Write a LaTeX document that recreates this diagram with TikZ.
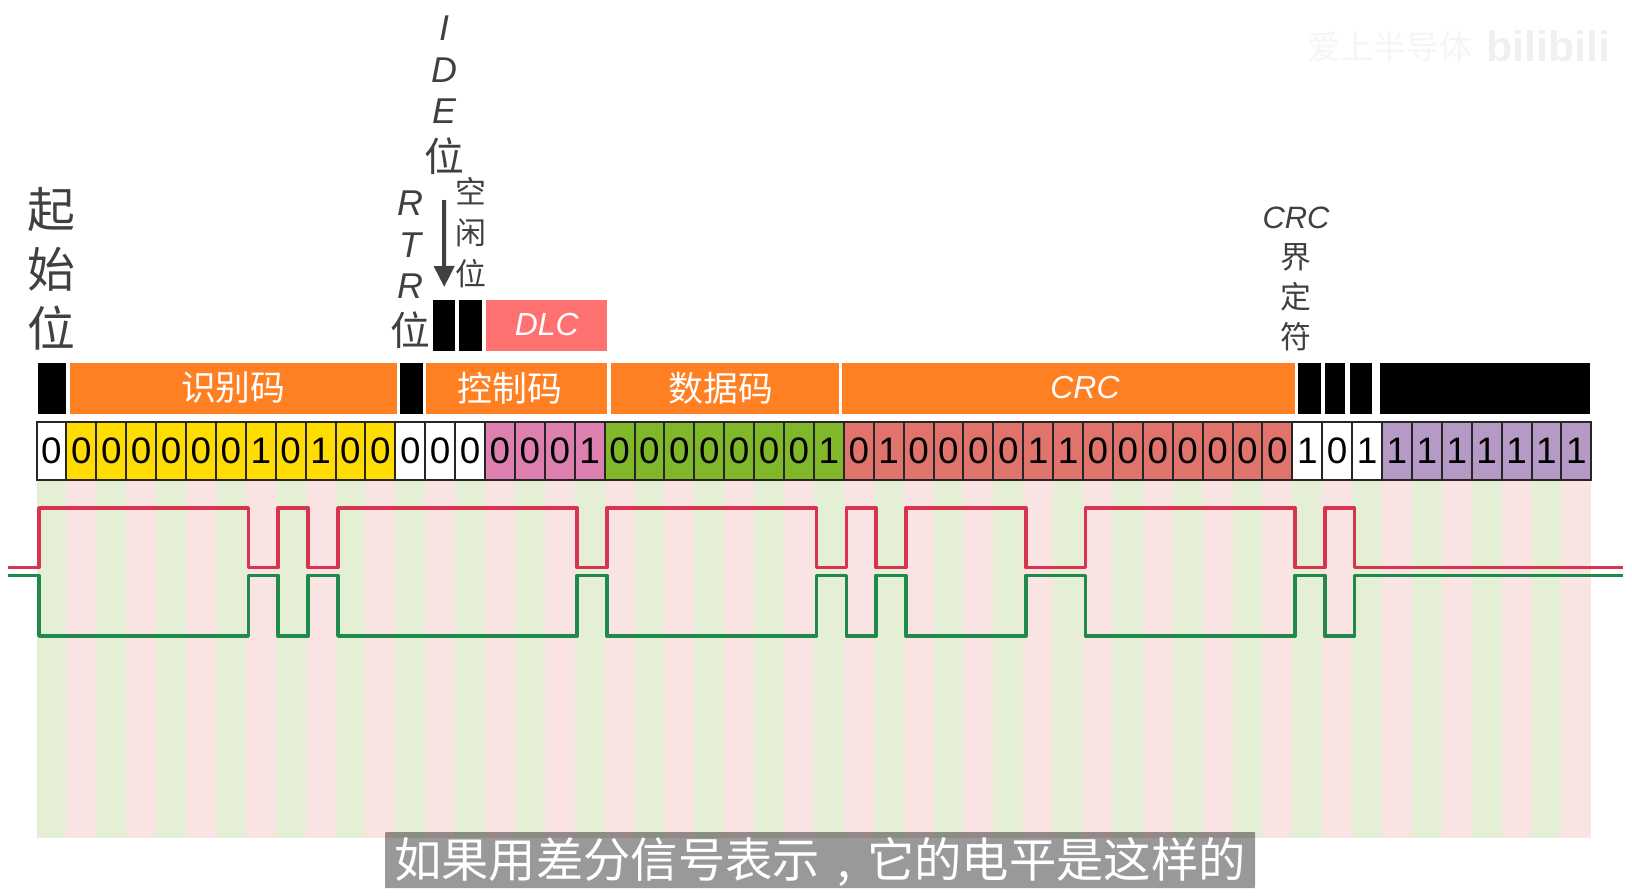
\documentclass[tikz,border=0pt]{standalone}
\usepackage{xcolor}
\usepackage{fontspec}
\setmainfont{Liberation Sans}
\newfontfamily\cjk{Noto Sans CJK SC}
\definecolor{bityellow}{RGB}{255,221,0}
\definecolor{bitpink}{RGB}{221,128,176}
\definecolor{bitgreen}{RGB}{128,184,42}
\definecolor{bitred}{RGB}{224,115,107}
\definecolor{bitpurple}{RGB}{181,154,197}
\definecolor{fieldorange}{RGB}{255,127,35}
\definecolor{dlcred}{RGB}{255,112,112}
\definecolor{stripegreen}{RGB}{229,239,214}
\definecolor{stripepink}{RGB}{250,227,227}
\definecolor{canhigh}{RGB}{216,51,79}
\definecolor{canlow}{RGB}{31,138,76}
\definecolor{labelgray}{RGB}{64,64,64}
\usetikzlibrary{arrows.meta}
\newcommand{\startbit}{36.5}
\newcommand{\widthbit}{29.9}
\newcommand{\edge}[1]{39+\widthbit*#1}
\newcommand{\widecjk}[1]{{\fontsize{40}{40}\selectfont\cjk #1}}
\tikzset{
    common/.style={anchor=west, rectangle, inner sep=0pt, minimum height=51bp},
    field/.style={common, fill=fieldorange, text=white, font=\fontsize{35}{35}\selectfont\cjk},
    fieldlatin/.style={field, font=\fontsize{32}{32}\selectfont\itshape},
    gap/.style={common, fill=black},
    bit/.style={draw=black!85, line width=2bp, rectangle, inner sep=0pt, minimum width=\widthbit bp, minimum height=58.5bp, font=\fontsize{37}{37}\selectfont},
    vlabel/.style={anchor=north, inner sep=0pt, align=center, text=labelgray},
    wave/.style={line width=3.6bp, line join=round},
    pointer/.style={-{Triangle[length=21bp,width=20bp]}, line width=4bp, labelgray}
}
\begin{document}
\begin{tikzpicture}[x=1bp, y=-1bp]
      \useasboundingbox (0,0) rectangle (1632,895);

      % stripes
      \foreach \i in {0,2,...,50}
          \fill[stripegreen] ({\startbit+\widthbit*\i},481) rectangle ++(\widthbit,357);
      \foreach \i in {1,3,...,51}
          \fill[stripepink] ({\startbit+\widthbit*\i},481) rectangle ++(\widthbit,357);

      % bit row
      \foreach \group/\col/\first in {
          {0}/white/0,
          {0,0,0,0,0,0,1,0,1,0,0}/bityellow/1,
          {0,0,0}/white/12,
          {0,0,0,1}/bitpink/15,
          {0,0,0,0,0,0,0,1}/bitgreen/19,
          {0,1,0,0,0,0,1,1,0,0,0,0,0,0,0}/bitred/27,
          {1,0,1}/white/42,
          {1,1,1,1,1,1,1}/bitpurple/45}
          \foreach \val [count=\i from \first] in \group
              \node[bit, fill=\col] (bit-\i) at ({\startbit+\widthbit*(\i+0.5)},451) {\val};

      % field bar
      \path
          (37.5,388) node[gap, minimum width=28bp] (start-bar) {}
          (69.7,388) node[field, minimum width=327bp] (id-bar) {识别码}
          (400,388) node[gap, minimum width=22.5bp] (rtr-bar) {}
          (425.7,388) node[common, minimum width=181.5bp, fill=fieldorange] (ctrl-bar) {}
          (611,388) node[common, minimum width=228bp, fill=fieldorange] (data-bar) {}
          (842,388) node[common, minimum width=453bp, fill=fieldorange] (crc-bar) {}
          (1298,388) node[gap, minimum width=23bp] (del-bar) {}
          (1325,388) node[gap, minimum width=20bp] (ack-bar) {}
          (1350,388) node[gap, minimum width=22bp] (ackdel-bar) {}
          (1380,388) node[gap, minimum width=210bp] (eof-bar) {};
      \node[field, anchor=center, fill=none] (ctrl-text) at (510,388) {控制码};
      \node[field, anchor=center, fill=none] (data-text) at (721,388) {数据码};
      \node[fieldlatin, anchor=center, fill=none] (crc-text) at (1085,388) {CRC};

      % control field detail
      \path
          (433,325) node[gap, minimum width=22bp] (ide-bar) {}
          (459,325) node[gap, minimum width=23bp] (idle-bar) {}
          (486,325) node[fieldlatin, fill=dlcred, minimum width=121bp] (dlc-bar) {DLC};

      % labels
      \node[vlabel, font=\fontsize{48}{60}\selectfont\cjk] (start-label) at (51,187) {起\\始\\位};
      \node[vlabel, font=\fontsize{36}{41.5}\selectfont\itshape] (rtr-label) at (410,191) {R\\T\\R\\[6bp]\widecjk{位}};
      \node[vlabel, font=\fontsize{36}{41.5}\selectfont\itshape] (ide-label) at (444,16) {I\\D\\E\\[7bp]\widecjk{位}};
      \node[vlabel, font=\fontsize{31}{41}\selectfont\cjk] (idle-label) at (471,177.5) {空\\闲\\位};
      \node[vlabel, font=\fontsize{31}{40}\selectfont\cjk] (crcdel-label) at (1296,207) {{\itshape\rmfamily CRC}\\界\\定\\符};
      \coordinate (ide-arrow) at (444,200);
      \draw[pointer] (ide-arrow) -- (ide-bar.north |- 0,287);

      % levels
      \coordinate (high-in) at (8,567.5);
      \coordinate (low-in) at (8,575.5);
      \draw[wave, canhigh] (high-in)
          -| ({\edge{0}},508) -| ({\edge{7}},567.5) -| ({\edge{8}},508) -| ({\edge{9}},567.5)
          -| ({\edge{10}},508) -| ({\edge{18}},567.5) -| ({\edge{19}},508) -| ({\edge{26}},567.5)
          -| ({\edge{27}},508) -| ({\edge{28}},567.5) -| ({\edge{29}},508) -| ({\edge{33}},567.5)
          -| ({\edge{35}},508) -| ({\edge{42}},567.5) -| ({\edge{43}},508) -| ({\edge{44}},567.5)
          -- (1623,567.5);
      \draw[wave, canlow] (low-in)
          -| ({\edge{0}},636) -| ({\edge{7}},575.5) -| ({\edge{8}},636) -| ({\edge{9}},575.5)
          -| ({\edge{10}},636) -| ({\edge{18}},575.5) -| ({\edge{19}},636) -| ({\edge{26}},575.5)
          -| ({\edge{27}},636) -| ({\edge{28}},575.5) -| ({\edge{29}},636) -| ({\edge{33}},575.5)
          -| ({\edge{35}},636) -| ({\edge{42}},575.5) -| ({\edge{43}},636) -| ({\edge{44}},575.5)
          -- (1623,575.5);

      % subtitle
      \node[fill=black, fill opacity=0.4, text opacity=1, text=white, rounded corners=1bp, inner sep=0pt,
          text height=43bp, text depth=8bp,
          minimum width=870bp, minimum height=56bp, font=\fontsize{47.5}{47.5}\selectfont\cjk] (subtitle) at (820,860)
          {如果用差分信号表示\hbox to 1em{\hss,\hss}它的电平是这样的};

      % watermark
      \node[text=black!4, font=\fontsize{33}{33}\selectfont\cjk] (mark) at (1390,47) {爱上半导体};
      \node[text=black!6, font=\fontsize{43}{43}\selectfont\bfseries] (logo) at (1548,46) {bilibili};
\end{tikzpicture}
\end{document}
